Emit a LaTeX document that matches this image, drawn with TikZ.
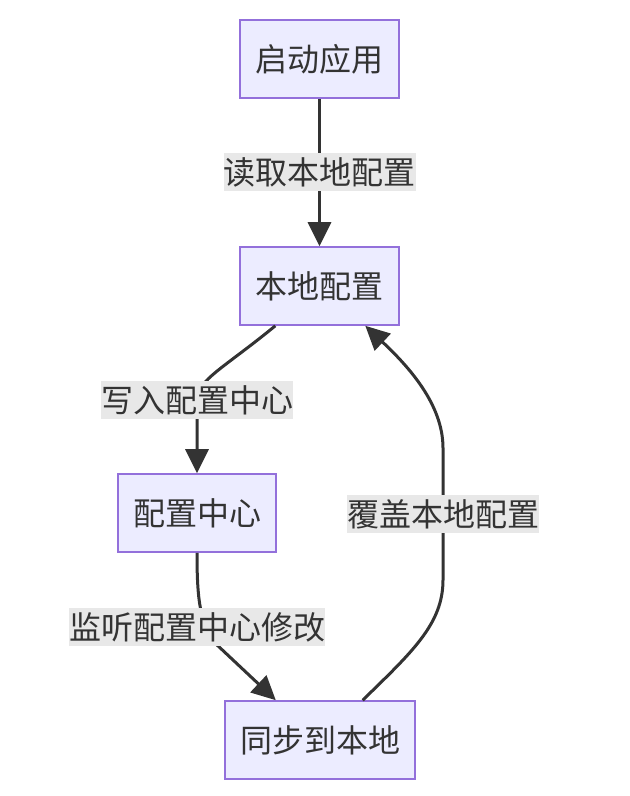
\documentclass[tikz,border=0pt]{standalone}
\usepackage{fontspec}
\setmainfont{Noto Sans CJK SC}
\usetikzlibrary{arrows.meta}
\definecolor{boxfill}{HTML}{ECECFF}
\definecolor{boxline}{HTML}{9370DB}
\definecolor{ink}{HTML}{333333}
\definecolor{labelbg}{HTML}{E8E8E8}

\begin{document}
\begin{tikzpicture}[x=1pt, y=1pt,
  every node/.style={font=\fontsize{16}{19}\selectfont, text=ink},
  stepnode/.style={draw=boxline, fill=boxfill, line width=0.8pt,
                   minimum height=39pt, inner sep=0pt},
  flow/.style={draw=ink, line width=1.5pt, -{Triangle[length=12pt,width=11.5pt]}},
  lbl/.style={fill=labelbg, inner sep=0pt, minimum height=19pt}]
\useasboundingbox (0,0) rectangle (315,-398);
\node[stepnode, minimum width=79.5pt] (start) at (159.75,-29.5) {启动应用};
\node[stepnode, minimum width=79.5pt] (local) at (159.75,-143) {本地配置};
\node[stepnode, minimum width=79pt] (center) at (98.5,-256.5) {配置中心};
\node[stepnode, minimum width=95pt] (sync) at (160,-370) {同步到本地};
\draw[flow] (start) -- node[lbl] {读取本地配置} (local);
\draw[flow] (local.222) .. controls (112,-184) and (98.5,-190) .. (98.5,-200)
  node[lbl] {写入配置中心}
  .. controls (98.5,-212) and (98.5,-220) .. (center.north);
\draw[flow] (center.south) .. controls (98.5,-300) and (100,-312) .. (108,-322)
  -- (sync.138);
\node[lbl] (watchlbl) at (98.5,-313.5) {监听配置中心修改};
\draw[flow] (sync.43) .. controls (206,-326) and (221.5,-312) .. (221.5,-290)
  -- node[lbl] {覆盖本地配置} (221.5,-224)
  .. controls (221.5,-202) and (204,-183) .. (local.-41);
\end{tikzpicture}
\end{document}
